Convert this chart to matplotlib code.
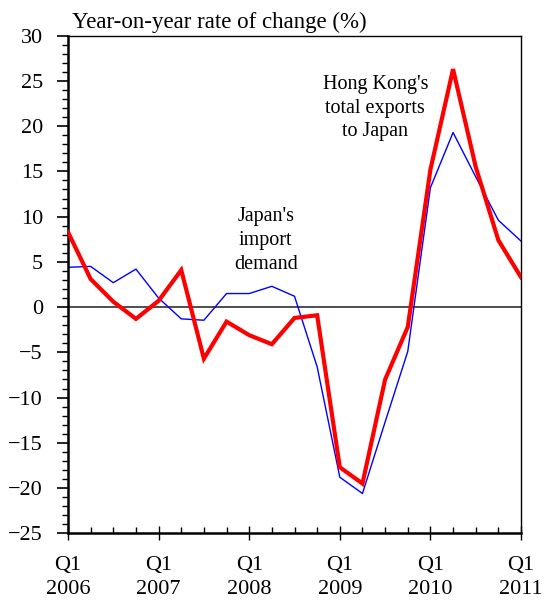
import matplotlib
matplotlib.use("Agg")
import matplotlib.pyplot as plt
from matplotlib.ticker import MultipleLocator

plt.rcParams['font.family'] = ['Liberation Serif', 'DejaVu Serif']

# quarters from Q1 2006 to Q1 2011
quarters = list(range(21))
year_labels = ["2006", "2007", "2008", "2009", "2010", "2011"]

# Hong Kong's total exports to Japan (thick red)
hk_exports = [8.3, 3.1, 0.6, -1.3, 0.7, 4.1, -5.7, -1.6, -3.1, -4.1, -1.2, -0.9,
              -17.7, -19.5, -8.0, -2.2, 15.2, 26.3, 15.5, 7.4, 3.3]
# Japan's import demand (thin blue)
jp_imports = [4.4, 4.5, 2.7, 4.2, 1.0, -1.3, -1.45, 1.5, 1.5, 2.3, 1.2, -6.6,
              -18.8, -20.6, -12.7, -4.9, 13.2, 19.3, 14.4, 9.6, 7.3]

fig = plt.figure(figsize=(5.47, 6.03), dpi=100)
ax = fig.add_axes([0.1243, 0.1156, 0.8282, 0.8252])

ax.axhline(0, color='#404040', lw=1.3, zorder=1)
ax.plot(quarters, jp_imports, color='#0000FF', lw=1.0, zorder=2)
ax.plot(quarters, hk_exports, color='#FF0000', lw=3.0, zorder=3, solid_joinstyle='miter')

ax.set_xlim(0, 20)
ax.set_ylim(-25, 30)

ax.yaxis.set_major_locator(MultipleLocator(5))
ax.yaxis.set_minor_locator(MultipleLocator(1))
ax.tick_params(axis='y', which='major', direction='out', length=8, width=1.2,
               labelsize=16, pad=10)
ax.tick_params(axis='y', which='minor', direction='out', length=4, width=1.0)

ax.set_xticks(range(0, 21, 4))
ax.set_xticklabels(["Q1\n" + y for y in year_labels], linespacing=1.4)
ax.xaxis.set_minor_locator(MultipleLocator(1))
ax.tick_params(axis='x', which='major', direction='inout', length=10, width=1.0,
               labelsize=16, pad=11)
ax.tick_params(axis='x', which='minor', direction='in', length=4, width=1.0)

for s in ['left', 'bottom']:
    ax.spines[s].set_linewidth(1.8)
for s in ['top', 'right']:
    ax.spines[s].set_linewidth(1.0)

fig.text(0.1316, 0.9536, "Year-on-year rate of change (%)", fontsize=16.5, ha='left', va='baseline')

ax.text(8.73, 7.4, "Japan's\nimport\ndemand", ha='center', va='center', fontsize=14.5, linespacing=1.35)
ax.text(13.57, 22.0, "Hong Kong's\ntotal exports\nto Japan", ha='center', va='center', fontsize=14.5, linespacing=1.35)

fig.savefig("out.png", dpi=100)
